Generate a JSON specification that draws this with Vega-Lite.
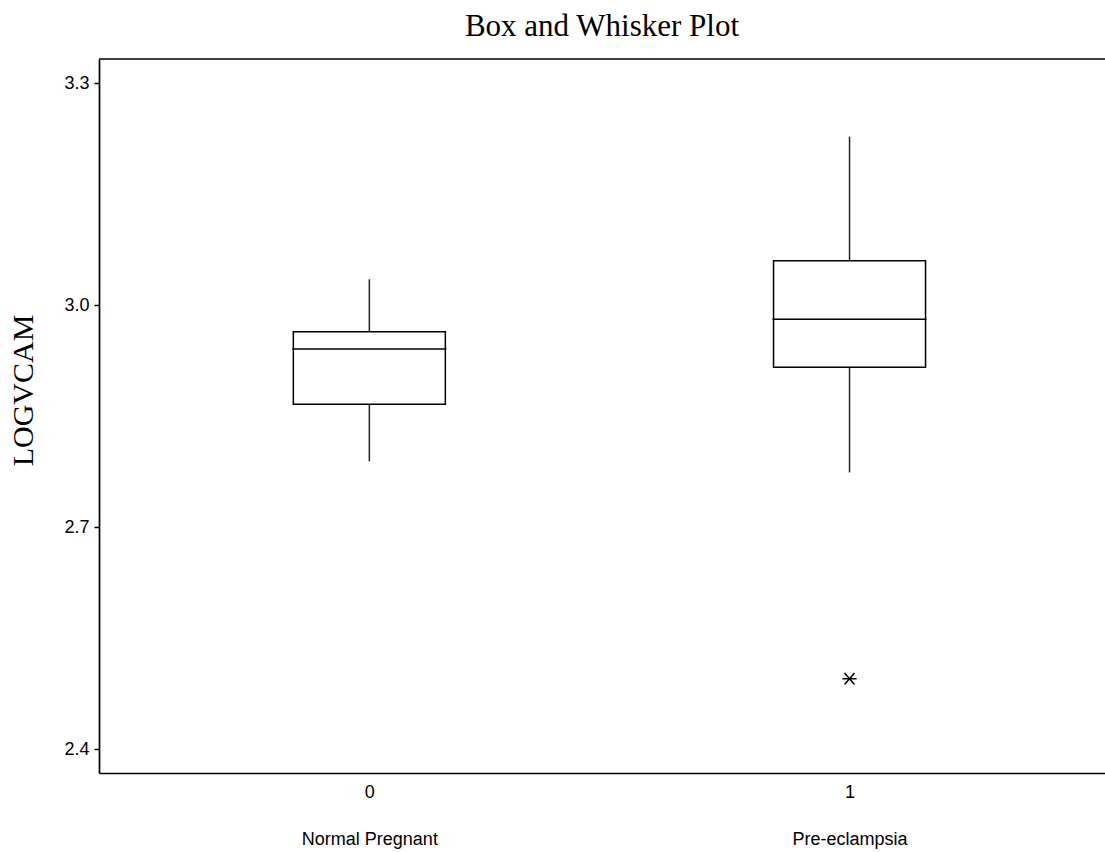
{
  "$schema": "https://vega.github.io/schema/vega-lite/v6.json",
  "width": 1006,
  "height": 714,
  "autosize": {"type": "none"},
  "padding": {"left": 99, "top": 59, "right": 0, "bottom": 79},
  "background": "white",
  "title": {
    "text": "Box and Whisker Plot",
    "font": "Liberation Serif",
    "fontSize": 31,
    "fontWeight": "normal",
    "color": "black",
    "anchor": "middle",
    "baseline": "alphabetic",
    "offset": -9
  },
  "datasets": {
    "stats": [
      {"group": 0, "label": "Normal Pregnant", "lower": 2.789, "q1": 2.866, "median": 2.941, "q3": 2.964, "upper": 3.035},
      {"group": 1, "label": "Pre-eclampsia", "lower": 2.774, "q1": 2.916, "median": 2.981, "q3": 3.060, "upper": 3.228}
    ],
    "outliers": [
      {"group": 1, "value": 2.495}
    ],
    "frame": [
      {"top": 3.3329}
    ]
  },
  "config": {
    "view": {"stroke": null},
    "axis": {"grid": false}
  },
  "layer": [
    {
      "data": {"name": "stats"},
      "mark": {"type": "rule", "color": "#222222", "strokeWidth": 1.5},
      "encoding": {
        "x": {"field": "group", "type": "quantitative", "scale": {"domain": [-0.5526, 1.5216], "nice": false, "zero": false},
          "axis": {"values": [0, 1], "labelExpr": "datum.value == 0 ? ['0', 'Normal Pregnant'] : ['1', 'Pre-eclampsia']", "ticks": false, "grid": false, "title": null, "labelFont": "Liberation Sans", "labelFontSize": 18, "labelColor": "black", "labelLineHeight": 47, "labelPadding": 10, "domainColor": "black", "domainWidth": 1.7, "labelFlush": false, "labelOverlap": false}},
        "y": {"field": "lower", "type": "quantitative", "scale": {"domain": [2.3676, 3.3329], "nice": false, "zero": false},
          "axis": {"values": [2.4, 2.7, 3.0, 3.3], "format": ".1f", "title": "LOGVCAM", "titleFont": "Liberation Serif", "titleFontSize": 30, "titleFontWeight": "normal", "titleColor": "black", "titleAngle": 270, "titleAlign": "center", "titleBaseline": "alphabetic", "titleX": -67, "titleY": 331, "labelFont": "Liberation Sans", "labelFontSize": 18, "labelColor": "black", "tickColor": "black", "tickSize": 5, "tickWidth": 1.5, "labelPadding": 5, "domainColor": "black", "domainWidth": 1.7, "grid": false}},
        "y2": {"field": "q1"}
      }
    },
    {
      "data": {"name": "stats"},
      "mark": {"type": "rule", "color": "#222222", "strokeWidth": 1.5},
      "encoding": {
        "x": {"field": "group", "type": "quantitative", "scale": {"domain": [-0.5526, 1.5216], "nice": false, "zero": false}},
        "y": {"field": "q3", "type": "quantitative", "scale": {"domain": [2.3676, 3.3329], "nice": false, "zero": false}},
        "y2": {"field": "upper"}
      }
    },
    {
      "data": {"name": "stats"},
      "mark": {"type": "bar", "size": 152, "fill": "white", "stroke": "black", "strokeWidth": 1.5},
      "encoding": {
        "x": {"field": "group", "type": "quantitative", "scale": {"domain": [-0.5526, 1.5216], "nice": false, "zero": false}},
        "y": {"field": "q1", "type": "quantitative", "scale": {"domain": [2.3676, 3.3329], "nice": false, "zero": false}},
        "y2": {"field": "q3"}
      }
    },
    {
      "data": {"name": "stats"},
      "mark": {"type": "tick", "orient": "horizontal", "size": 154, "thickness": 1.5, "color": "black", "opacity": 1},
      "encoding": {
        "x": {"field": "group", "type": "quantitative", "scale": {"domain": [-0.5526, 1.5216], "nice": false, "zero": false}},
        "y": {"field": "median", "type": "quantitative", "scale": {"domain": [2.3676, 3.3329], "nice": false, "zero": false}}
      }
    },
    {
      "data": {"name": "outliers"},
      "mark": {"type": "point", "shape": "M-1,0L1,0M-0.7,-0.8L0.7,0.8M-0.7,0.8L0.7,-0.8", "size": 200, "filled": false, "stroke": "black", "strokeWidth": 1.5, "opacity": 1},
      "encoding": {
        "x": {"field": "group", "type": "quantitative", "scale": {"domain": [-0.5526, 1.5216], "nice": false, "zero": false}},
        "y": {"field": "value", "type": "quantitative", "scale": {"domain": [2.3676, 3.3329], "nice": false, "zero": false}}
      }
    },
    {
      "data": {"name": "frame"},
      "mark": {"type": "rule", "color": "black", "strokeWidth": 1.7},
      "encoding": {
        "y": {"field": "top", "type": "quantitative", "scale": {"domain": [2.3676, 3.3329], "nice": false, "zero": false}}
      }
    }
  ]
}
